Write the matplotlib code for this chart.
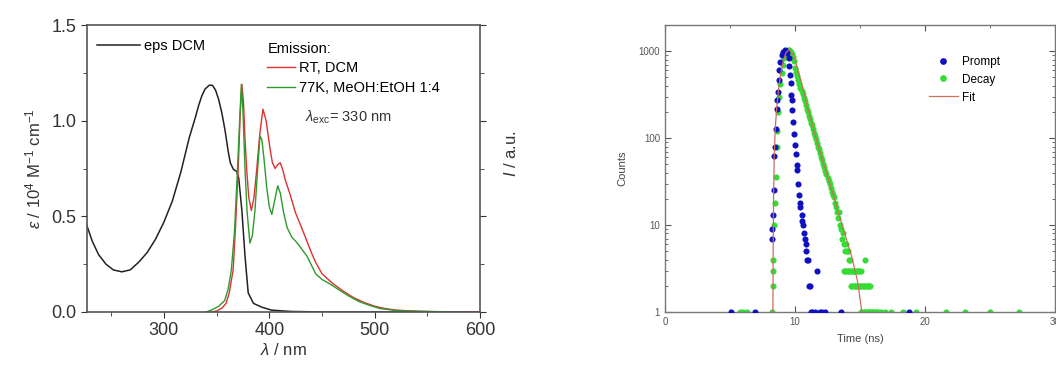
import numpy as np
import matplotlib
matplotlib.use('Agg')
import matplotlib.pyplot as plt
from matplotlib.ticker import MultipleLocator, FixedLocator, NullFormatter, LogLocator

plt.rcParams['font.family'] = ['Liberation Sans', 'DejaVu Sans']
plt.rcParams['mathtext.fontset'] = 'custom'
plt.rcParams['mathtext.rm'] = 'Liberation Sans'
plt.rcParams['mathtext.it'] = 'Liberation Sans:italic'

# absorption (eps DCM), 10^4 M-1 cm-1
abs_wl = [225, 227, 232, 238, 245, 252, 260, 268, 276, 284, 292, 300, 308, 316, 324, 330, 333, 336, 339,
          343, 346, 349, 352, 355, 358, 361, 363, 366, 369, 371, 374, 377, 380, 385, 393, 402, 420, 450, 600]
abs_eps = [0.48, 0.45, 0.37, 0.30, 0.25, 0.22, 0.21, 0.22, 0.26, 0.31, 0.38, 0.47, 0.58, 0.73, 0.91, 1.02,
           1.08, 1.13, 1.165, 1.185, 1.185, 1.16, 1.11, 1.04, 0.95, 0.84, 0.78, 0.745, 0.735, 0.70, 0.53,
           0.29, 0.10, 0.045, 0.025, 0.01, 0.003, 0.0, 0.0]

# emission RT, DCM
rt_wl = [345, 350, 355, 359, 362, 365.7, 368, 370.5, 372.5, 374, 375.5, 377, 378.5, 380.5, 383, 385.5,
         388, 391, 394, 397, 400.8, 403, 405.6, 408, 410.4, 413, 415.2, 420, 424.8, 430, 434.3, 440,
         444, 450, 460, 470, 480, 490, 500, 510, 520, 540, 560, 600]
rt_int = [0.0, 0.005, 0.02, 0.045, 0.1, 0.22, 0.45, 0.75, 1.05, 1.19, 1.1, 0.9, 0.75, 0.6, 0.53, 0.6,
          0.74, 0.93, 1.06, 1.0, 0.85, 0.78, 0.75, 0.77, 0.78, 0.74, 0.69, 0.61, 0.52, 0.45, 0.39, 0.31,
          0.26, 0.2, 0.15, 0.11, 0.075, 0.05, 0.03, 0.018, 0.01, 0.004, 0.001, 0.0]

# emission 77K, MeOH:EtOH 1:4
lt_wl = [340, 345, 352, 357.7, 361, 364, 367, 369, 371.5, 373.5, 375, 377, 379, 381.6, 384, 386.4, 389,
         391.2, 393, 395, 397.6, 400, 402.4, 405, 408, 410.5, 413.6, 417, 421.5, 425, 428, 432, 436, 440,
         444, 450, 456.6, 465, 475, 485, 495, 505, 520, 540, 560, 580]
lt_int = [0.0, 0.01, 0.03, 0.06, 0.12, 0.22, 0.42, 0.65, 0.95, 1.19, 1.05, 0.74, 0.52, 0.36, 0.4, 0.53,
          0.75, 0.92, 0.9, 0.8, 0.65, 0.55, 0.51, 0.58, 0.66, 0.62, 0.52, 0.44, 0.39, 0.37, 0.35, 0.32,
          0.29, 0.245, 0.2, 0.17, 0.15, 0.12, 0.085, 0.055, 0.035, 0.018, 0.008, 0.004, 0.002, 0.0]

# TCSPC prompt (IRF)
prompt_t = [5.1, 6.9, 8.20, 8.25, 8.30, 8.36, 8.42, 8.46, 8.52, 8.58, 8.63, 8.68, 8.74, 8.80, 8.88, 8.97,
            9.08, 9.20, 9.30, 9.40, 9.50, 9.57, 9.62, 9.67, 9.72, 9.76, 9.80, 9.87, 9.93, 9.99, 10.05,
            10.12, 10.18, 10.25, 10.31, 10.36, 10.42, 10.50, 10.55, 10.62, 10.70, 10.78, 10.83, 10.88,
            10.94, 11.00, 11.07, 11.13, 11.20, 11.3, 11.5, 11.7, 11.9, 12.1, 12.3, 13.5, 18.8]
prompt_c = [1, 1, 7, 9, 13, 25, 62, 80, 128, 215, 275, 340, 465, 600, 760, 900,
            990, 1020, 1000, 960, 830, 680, 530, 425, 310, 275, 210, 155, 113, 83, 66,
            49, 43, 30, 22, 18, 16, 13, 11, 10, 8, 7, 6, 5,
            4, 4, 2, 2, 1, 1, 1, 3, 1, 1, 1, 1, 1]

# TCSPC decay
decay_t = [5.8, 6.0, 6.3, 8.22, 8.27, 8.30, 8.33, 8.38, 8.45, 8.52, 8.58, 8.65, 8.72, 8.80, 8.88, 8.97,
           9.05, 9.15, 9.25, 9.35, 9.45, 9.55, 9.62,
           9.70, 9.78, 9.86, 9.94, 10.02, 10.10, 10.18, 10.26, 10.34, 10.42, 10.50, 10.58, 10.66, 10.74,
           10.82, 10.90, 10.98, 11.06, 11.14, 11.22, 11.30, 11.38, 11.46, 11.54, 11.62, 11.70, 11.78,
           11.86, 11.94, 12.02, 12.10, 12.18, 12.26, 12.34, 12.42, 12.50, 12.58, 12.66, 12.74, 12.82,
           12.90, 12.98, 13.06, 13.14, 13.22, 13.30, 13.38, 13.46, 13.54, 13.62, 13.70, 13.78, 13.86,
           13.94, 14.02, 14.10, 14.18, 14.26,
           13.75, 13.85, 13.95, 14.05, 14.15, 14.25, 14.35, 14.45, 14.55, 14.65, 14.75, 14.85, 14.95, 15.05,
           14.3, 14.4, 14.5, 14.6, 14.7, 14.8, 14.9, 15.0, 15.1, 15.2, 15.3, 15.4, 15.5, 15.6, 15.7, 15.8,
           15.35,
           15.1, 15.2, 15.3, 15.4, 15.5, 15.6, 15.7, 15.8, 15.9, 16.0, 16.1, 16.2, 16.3, 16.4, 16.6, 16.9,
           17.4, 18.3, 19.3, 21.6, 23.1, 25.0, 27.2]
decay_c = [1, 1, 1, 1, 2, 3, 4, 10, 18, 36, 80, 120, 200, 300, 420, 560,
           700, 830, 920, 980, 1020, 1040, 1000,
           980, 930, 860, 770, 640, 580, 520, 470, 420, 380, 350, 320, 290, 265,
           240, 215, 200, 180, 165, 150, 140, 128, 115, 105, 98, 88, 80,
           74, 68, 60, 56, 50, 46, 42, 39, 35, 32, 30, 27, 24,
           22, 21, 18, 16, 14, 12, 14, 10, 9, 7, 8, 6, 5,
           6, 5, 5, 4, 4,
           3, 3, 3, 3, 3, 3, 3, 3, 3, 3, 3, 3, 3, 3,
           2, 2, 2, 2, 2, 2, 2, 2, 2, 2, 2, 2, 2, 2, 2, 2,
           4,
           1, 1, 1, 1, 1, 1, 1, 1, 1, 1, 1, 1, 1, 1, 1, 1,
           1, 1, 1, 1, 1, 1, 1]

# fit curve
fit_t = [8.30, 8.32, 8.35, 8.40, 8.48, 8.60, 8.75, 8.90, 9.10, 9.30, 9.50, 9.65, 9.80, 10.0, 10.5, 11.0,
         11.5, 12.0, 12.47, 13.0, 13.36, 14.0, 14.37, 14.8, 15.15]
fit_c = [1, 5, 20, 60, 130, 230, 380, 550, 780, 950, 1030, 1020, 940, 800, 430, 215,
         115, 64, 37.6, 21, 13.6, 6.5, 4.3, 2.3, 1]

fig = plt.figure(figsize=(10.56, 3.65), dpi=100)

# ---- left panel: absorption / emission ----
ax1 = fig.add_axes([87/1056, 1 - 312/365, (480 - 87)/1056, (312 - 25)/365])
l_abs, = ax1.plot(abs_wl, abs_eps, color='#222222', lw=1.1)
l_rt, = ax1.plot(rt_wl, rt_int, color='#e03030', lw=1.0)
l_lt, = ax1.plot(lt_wl, lt_int, color='#2e9a2e', lw=1.0)
ax1.set_xlim(227, 600)
ax1.set_ylim(0, 1.5)
ax1.xaxis.set_major_locator(FixedLocator([300, 400, 500, 600]))
ax1.xaxis.set_minor_locator(MultipleLocator(50))
ax1.yaxis.set_major_locator(MultipleLocator(0.5))
ax1.yaxis.set_minor_locator(MultipleLocator(0.25))
ax1.yaxis.set_major_formatter(matplotlib.ticker.FormatStrFormatter('%.1f'))
ax1.tick_params(which='both', direction='out', labelsize=13, colors='#333333', right=True, labelright=False)
ax1.tick_params(which='major', length=4)
ax1.tick_params(which='minor', length=3)
for s in ax1.spines.values():
    s.set_color('#555555')
    s.set_linewidth(1.2)
ax1.set_xlabel(r'$\lambda$ / nm', fontsize=12, color='#333333', labelpad=2)
ax1.set_ylabel(r'$\varepsilon$ / 10$^4$ M$^{-1}$ cm$^{-1}$', fontsize=12, color='#333333', labelpad=6)
ax1.text(1.08, 0.55, r'$I$ / a.u.', transform=ax1.transAxes, rotation=90, fontsize=12,
         color='#333333', va='center', ha='center')

leg1 = ax1.legend([l_abs], ['eps DCM'], loc='upper left', bbox_to_anchor=(0.0, 0.986), frameon=False,
                  fontsize=10.5, handlelength=2.9, handletextpad=0.3, borderaxespad=0.3)
ax1.add_artist(leg1)
ax1.legend([l_rt, l_lt], ['RT, DCM', '77K, MeOH:EtOH 1:4'], title='Emission:', title_fontsize=10.5,
           alignment='left', loc='upper left', bbox_to_anchor=(0.433, 0.978), frameon=False,
           fontsize=10.5, handlelength=1.9, handletextpad=0.25, labelspacing=0.4, borderaxespad=0.3)
ax1.text(0.555, 0.68, r'$\lambda_{\rm exc}$= 330 nm', transform=ax1.transAxes, fontsize=10.5,
         color='#333333', va='center')

# ---- right panel: TCSPC decay ----
ax2 = fig.add_axes([665/1056, 1 - 312/365, (1055 - 665)/1056, (312 - 25)/365])
p1, = ax2.plot(prompt_t, prompt_c, 'o', color='#1010c0', ms=4.4, mec='none', zorder=3)
p2, = ax2.plot(decay_t, decay_c, 'o', color='#33dd33', ms=4.4, mec='none', zorder=2)
p3, = ax2.plot(fit_t, fit_c, color='#c8705a', lw=0.9, zorder=4)
ax2.set_yscale('log')
ax2.set_xlim(0, 30)
ax2.set_ylim(1, 2000)
ax2.xaxis.set_major_locator(FixedLocator([0, 10, 20, 30]))
ax2.xaxis.set_minor_locator(FixedLocator([5, 15, 25]))
ax2.yaxis.set_major_locator(LogLocator(base=10, numticks=10))
ax2.yaxis.set_minor_locator(LogLocator(base=10, subs=np.arange(2, 10), numticks=10))
ax2.yaxis.set_minor_formatter(NullFormatter())
ax2.yaxis.set_major_formatter(matplotlib.ticker.FuncFormatter(lambda v, p: '%d' % v))
ax2.tick_params(which='both', direction='in', labelsize=7, colors='#555555', top=True, right=True)
ax2.tick_params(which='major', length=4)
ax2.tick_params(which='minor', length=2)
for s in ax2.spines.values():
    s.set_color('#777777')
    s.set_linewidth(1.0)
ax2.set_xlabel('Time (ns)', fontsize=8, color='#444444', labelpad=5)
ax2.set_ylabel('Counts', fontsize=8, color='#444444', labelpad=8)
ax2.legend([p1, p2, p3], ['Prompt', 'Decay', 'Fit'], loc='upper right', bbox_to_anchor=(0.887, 0.93),
           frameon=False, fontsize=8.5, handlelength=2.4, handletextpad=0.4, labelspacing=0.5,
           markerscale=1.1)

fig.savefig('out.png', dpi=100)
